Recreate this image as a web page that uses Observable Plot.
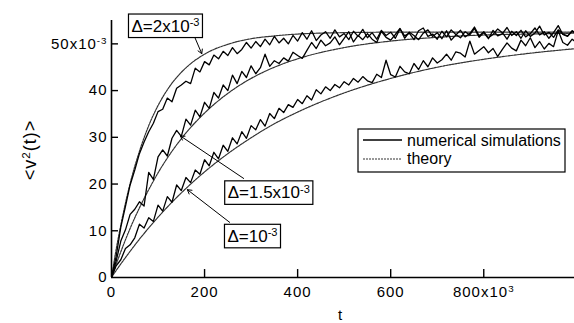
<!DOCTYPE html>
<html><head><meta charset="utf-8">
<script src="https://cdn.jsdelivr.net/npm/d3@7"></script>
<script src="https://cdn.jsdelivr.net/npm/@observablehq/plot@0.6"></script>
<style>
html,body{margin:0;padding:0;background:#fff;}
#chart svg{display:block;font-family:"Liberation Sans",Arial,Helvetica,sans-serif;background:#fff;}
</style></head><body><div id="chart"></div>
<script>
// simulation samples every 10 time units (t = 0 .. 1000, in units of 10^3)
const simStep = 10;
const sim2 = [0, 4.5, 10.8, 15.2, 19.8, 23.0, 26.5, 29.0, 31.2, 33.0,
  35.5, 36.0, 38.4, 37.6, 40.5, 41.2, 42.0, 41.5, 44.8, 44.0,
  46.2, 45.5, 47.6, 46.8, 48.4, 47.5, 49.2, 47.9, 48.8, 50.3,
  49.1, 50.5, 49.4, 51.0, 49.8, 51.6, 50.2, 51.2, 50.0, 51.8,
  50.6, 52.4, 51.0, 52.8, 50.7, 51.9, 52.6, 51.2, 53.0, 51.5,
  52.2, 50.9, 52.7, 51.6, 53.1, 51.3, 52.4, 51.0, 52.9, 51.8,
  52.5, 51.2, 53.2, 51.7, 52.3, 50.9, 52.8, 53.4, 51.6, 52.1,
  51.0, 52.7, 51.5, 53.0, 52.0, 51.3, 52.6, 51.9, 53.3, 51.4,
  52.4, 51.1, 52.9, 51.7, 52.2, 53.5, 51.8, 52.6, 51.2, 52.8,
  51.6, 52.3, 53.8, 51.9, 52.5, 51.4, 53.0, 52.1, 51.7, 52.7,
  52.4];
const sim15 = [0, 3.5, 7.8, 10.2, 13.5, 14.6, 16.2, 15.3, 22.5, 21.0,
  25.8, 27.3, 26.0, 29.8, 31.5, 30.2, 33.9, 32.6, 35.8, 34.4,
  37.5, 36.2, 39.6, 38.4, 41.2, 40.0, 43.3, 41.5, 44.1, 42.8,
  45.3, 43.6, 44.9, 47.8, 45.2, 46.4, 45.8, 47.0, 46.3, 48.2,
  47.5, 46.9, 48.6, 50.3, 49.0, 50.8, 49.6, 50.2, 51.5, 49.8,
  51.2, 52.6, 50.4, 51.8, 50.9, 52.2, 51.0, 50.3, 52.7, 51.4,
  50.8, 52.0, 53.3, 51.2, 52.5, 51.8, 50.9, 52.3, 53.0, 51.6,
  52.4, 51.1, 52.8, 50.8, 51.9, 52.9, 51.5, 52.2, 53.6, 51.7,
  52.6, 51.3, 52.0, 53.2, 52.4, 51.0, 52.7, 51.8, 52.9, 51.5,
  52.2, 53.4, 51.9, 52.6, 51.2, 52.4, 53.9, 52.0, 51.6, 52.8,
  51.9];
const sim1 = [0, 2.5, 3.8, 6.2, 7.0, 8.5, 11.4, 10.6, 12.8, 12.0,
  15.5, 14.2, 17.3, 16.1, 19.8, 18.6, 21.4, 20.3, 23.0, 22.1,
  25.2, 23.9, 26.8, 25.4, 28.3, 27.0, 29.9, 28.6, 31.2, 29.8,
  32.5, 31.6, 33.8, 32.4, 35.1, 34.0, 36.2, 35.3, 37.0, 36.4,
  38.1, 37.2, 38.9, 38.0, 40.2, 39.3, 40.8, 40.0, 41.3, 40.6,
  41.9, 41.2, 42.6, 41.8, 43.0, 42.1, 41.7, 43.5, 42.8, 46.5,
  43.4, 42.9, 45.2, 44.0, 43.6, 45.8, 44.5, 46.4, 45.1, 47.0,
  45.9, 46.6, 47.8, 46.5, 48.3, 48.0, 47.2, 50.6, 47.8, 48.6,
  49.4, 48.1, 49.0, 47.3, 48.8, 50.2, 49.1, 48.5, 50.8, 49.6,
  51.3, 49.2, 50.5, 48.9, 50.1, 49.4, 52.8, 50.3, 49.7, 51.0,
  50.2];

// theory curves, read at these times
const theoryT = [0, 10, 20, 40, 60, 80, 100, 125, 150, 200, 250, 300, 350, 400, 500, 600, 700, 800, 900, 1000];
const theory2 = [0, 6.0, 11.2, 20.1, 27.0, 32.5, 36.8, 40.9, 43.9, 47.8, 49.9, 51.1, 51.7, 52.1, 52.4, 52.5, 52.5, 52.5, 52.5, 52.5];
const theory15 = [0, 2.8, 5.5, 10.5, 14.9, 18.8, 22.4, 26.3, 29.7, 35.2, 39.4, 42.6, 45.0, 46.8, 49.2, 50.6, 51.4, 51.9, 52.1, 52.3];
const theory1 = [0, 1.5, 2.9, 5.6, 8.2, 10.6, 12.9, 15.6, 18.1, 22.6, 26.5, 29.9, 32.9, 35.4, 39.5, 42.6, 45.0, 46.7, 48.0, 49.0];

const xTicks = [0, 200, 400, 600, 800];
const xTickLabels = ["0", "200", "400", "600", "800x10^3"];
const yTicks = [0, 10, 20, 30, 40, 50];
const yTickLabels = ["0", "10", "20", "30", "40", "50x10^-3"];

const annLabels = ["Δ=2x10^-3", "Δ=1.5x10^-3", "Δ=10^-3"];
const annT = [116, 338, 303];
const annV = [53.8, 18.1, 8.8];
const arrowFromT = [176, 284, 254];
const arrowFromV = [52.1, 21.2, 11.8];
const arrowToT = [194, 148, 163];
const arrowToV = [47.9, 30.3, 18.8];

const legendLabels = ["numerical simulations", "theory"];
const xLabel = "t";
const yLabel = "<v^2(t)>";

// build tables
const simRows = [];
[["2", sim2], ["1.5", sim15], ["1", sim1]].forEach(([k, arr]) =>
  arr.forEach((v, i) => simRows.push({series: k, t: i * simStep, v})));
const theoryRows = [];
[["2", theory2], ["1.5", theory15], ["1", theory1]].forEach(([k, arr]) =>
  arr.forEach((v, i) => theoryRows.push({series: k, t: theoryT[i], v})));
const annotations = annLabels.map((label, i) => ({
  label, t: annT[i], v: annV[i],
  x1: arrowFromT[i], y1: arrowFromV[i], x2: arrowToT[i], y2: arrowToV[i]}));

const chart = Plot.plot({
  width: 574, height: 323,
  marginLeft: 111, marginRight: 0, marginTop: 20, marginBottom: 46,
  x: {domain: [0, 995]},
  y: {domain: [0, 55]},
  style: {fontFamily: '"Liberation Sans", Arial, sans-serif', background: "#fff"},
  marks: [
    Plot.line(theoryRows, {x: "t", y: "v", z: "series", curve: "monotone-x", stroke: "#333", strokeWidth: 1.2, strokeDasharray: "2 1", clip: true}),
    Plot.line(simRows, {x: "t", y: "v", z: "series", stroke: "#000", strokeWidth: 1.3, clip: true}),
    Plot.arrow(annotations, {x1: "x1", y1: "y1", x2: "x2", y2: "y2", stroke: "#000", strokeWidth: 1, headLength: 7}),
    Plot.text(annotations, {x: "t", y: "v", text: "label", fontSize: 17, fill: "#000"}),
    Plot.ruleX(xTicks.slice(1), {x: d => d, y1: 0, y2: 1.7, stroke: "#000", strokeWidth: 1.4}),
    Plot.ruleY(yTicks.slice(1), {y: d => d, x1: 0, x2: 15, stroke: "#000", strokeWidth: 1.4}),
    Plot.ruleX([0], {stroke: "#000", strokeWidth: 1.6}),
    Plot.ruleY([0], {stroke: "#000", strokeWidth: 1.6}),
    Plot.axisX({ticks: xTicks, tickFormat: d => xTickLabels[xTicks.indexOf(d)], tickSize: 0, tickPadding: 9, fontSize: 15, label: null}),
    Plot.axisY({ticks: yTicks, tickFormat: d => yTickLabels[yTicks.indexOf(d)], tickSize: 0, tickPadding: 4, fontSize: 15, label: null})
  ]
});
document.getElementById("chart").appendChild(chart);

const svg = d3.select(chart);
const NS = "http://www.w3.org/2000/svg";

function supify(el) {
  const s = el.textContent;
  const m = s.match(/^(.*?)\^(-?\d+)(.*)$/);
  if (!m) return;
  while (el.firstChild) el.removeChild(el.firstChild);
  const a = document.createElementNS(NS, "tspan"); a.textContent = m[1]; el.appendChild(a);
  const b = document.createElementNS(NS, "tspan"); b.textContent = m[2];
  b.setAttribute("dy", "-0.5em"); b.setAttribute("font-size", "0.65em"); el.appendChild(b);
  if (m[3]) {
    const c = document.createElementNS(NS, "tspan"); c.textContent = m[3];
    c.setAttribute("dy", "0.33em"); el.appendChild(c);
  }
}

svg.selectAll("text").each(function() { supify(this); });
svg.selectAll('g[aria-label="x-axis tick label"] text, g[aria-label="y-axis tick label"] text')
  .attr("letter-spacing", "1");

// boxes around annotation labels
svg.selectAll("text").each(function() {
  if (!this.textContent.startsWith("Δ")) return;
  const bb = this.getBBox();
  const r = document.createElementNS(NS, "rect");
  r.setAttribute("x", bb.x - 3); r.setAttribute("y", bb.y - 2);
  r.setAttribute("width", bb.width + 6); r.setAttribute("height", bb.height + 4);
  r.setAttribute("fill", "#fff"); r.setAttribute("stroke", "#000"); r.setAttribute("stroke-width", 1.2);
  const t = this.getAttribute("transform");
  if (t) r.setAttribute("transform", t);
  this.parentNode.insertBefore(r, this);
});

// axis titles
svg.append("text").attr("transform", "translate(36,150) rotate(-90)")
  .attr("text-anchor", "middle").attr("font-size", 18).attr("letter-spacing", "1")
  .attr("fill", "#000").text(yLabel).each(function() { supify(this); });
svg.append("text").attr("x", 340).attr("y", 320).attr("text-anchor", "middle")
  .attr("font-size", 15).attr("fill", "#000").text(xLabel);

// legend
const lg = svg.append("g").attr("text-anchor", "start");
lg.append("rect").attr("x", 358).attr("y", 129).attr("width", 207).attr("height", 43)
  .attr("fill", "#fff").attr("stroke", "#000").attr("stroke-width", 1.2);
lg.append("line").attr("x1", 363).attr("x2", 402).attr("y1", 140).attr("y2", 140)
  .attr("stroke", "#000").attr("stroke-width", 1.3);
lg.append("line").attr("x1", 363).attr("x2", 402).attr("y1", 159).attr("y2", 159)
  .attr("stroke", "#333").attr("stroke-width", 1.2).attr("stroke-dasharray", "2 1");
lg.append("text").attr("x", 407).attr("y", 146).attr("text-anchor", "start").attr("font-size", 16).attr("fill", "#000").text(legendLabels[0]);
lg.append("text").attr("x", 407).attr("y", 164).attr("text-anchor", "start").attr("font-size", 16).attr("fill", "#000").text(legendLabels[1]);
</script>
</body></html>
